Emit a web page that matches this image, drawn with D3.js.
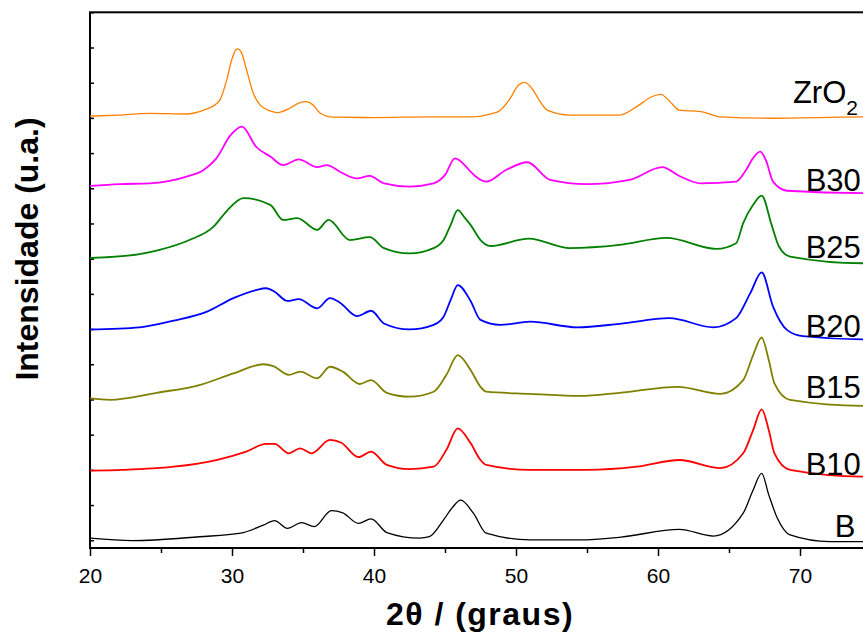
<!DOCTYPE html>
<html>
<head>
<meta charset="utf-8">
<script src="https://cdn.jsdelivr.net/npm/d3@7"></script>
<style>
  body { margin: 0; background: #fff; }
  text { font-family: "Liberation Sans", Arial, sans-serif; }
</style>
</head>
<body>
<svg id="chart" width="863" height="632"></svg>
<script>
// XRD patterns, stacked with an offset (u.a.), [2theta, intensity]
const zro2 = [[20,1205],[22,1208],[24.2,1213],[26.8,1211],[28,1222],[28.9,1240],[29.15,1251],[29.63,1308],
  [29.98,1365],[30.26,1393],[30.4,1396],[30.68,1384],[31.03,1336],[31.5,1270],[31.97,1237],[32.68,1220],
  [33.2,1215],[34.1,1228],[34.7,1242],[35.2,1246],[35.7,1237],[36.2,1214],[37.1,1202],[40,1201],[44,1203],
  [46.8,1203],[48.2,1211],[48.9,1222],[49.6,1256],[50.16,1293],[50.6,1301],[51.1,1285],[51.7,1246],
  [52.2,1222],[53.8,1208],[57.3,1208],[58.5,1232],[59.56,1260],[60.2,1267],[60.85,1246],[61.5,1222],
  [63,1218],[64.4,1203],[67.9,1199],[74.4,1203],[75,1203]];

const b30 = [[20,1007],[22.1,1012],[24.2,1014],[26.8,1033],[28,1052],[28.9,1085],[29.9,1151],[30.7,1175],
  [31.7,1118],[32.7,1090],[33.6,1066],[34.7,1082],[36,1060],[36.7,1066],[37.6,1047],[38.8,1028],[39.7,1035],
  [40.7,1014],[42.5,1005],[44.2,1014],[45,1038],[45.7,1085],[46.5,1061],[46.8,1047],[47.9,1019],[49.3,1052],
  [50.8,1074],[52.4,1024],[55,1012],[58,1024],[60.3,1060],[61.5,1035],[63,1014],[65.5,1019],[66.2,1052],
  [66.7,1086],[67.2,1104],[67.6,1080],[68.1,1019],[69.1,993],[74.4,986],[75,986]];

const b25 = [[20,802],[23.5,813],[24.9,825],[27,853],[28.7,891],[29.6,934],[30.8,972],[32.7,953],[33.6,910],
  [34.6,915],[36,882],[36.8,910],[38.3,853],[39.7,861],[40.7,830],[42.5,815],[44.2,830],[44.9,853],[45.4,896],
  [45.9,938],[46.4,916],[46.8,896],[47.5,853],[48.2,836],[50.9,857],[53.8,830],[57.3,839],[60.6,859],
  [64.1,828],[65.5,844],[66,901],[66.7,953],[67.3,979],[68,896],[68.5,836],[69.3,806],[74.4,787],[75,787]];

const b20 = [[20,599],[23.5,605],[25.9,624],[28.2,649],[30.1,688],[31.7,711],[32.4,716],[33,706],[33.9,680],
  [34.7,685],[36,659],[36.9,688],[37.6,675],[38.8,637],[39.8,652],[40.7,616],[42.5,599],[44.2,612],[44.9,635],
  [45.4,683],[45.9,725],[46.8,680],[47.5,626],[48.9,612],[51,621],[54.3,605],[57.3,615],[60.8,631],[63.9,605],
  [65.5,631],[66.5,702],[67.3,761],[68.1,664],[69.1,597],[70.2,580],[74.4,571],[75,571]];

const b15 = [[20,403],[21.4,399],[24.7,419],[27.7,441],[30.1,474],[32.2,500],[32.9,495],[34,470],[34.8,479],
  [36,460],[36.9,493],[37.8,479],[39,444],[39.8,455],[40.9,419],[42.5,408],[44.2,422],[45.1,470],[45.9,526],
  [46.8,484],[47.5,436],[47.9,422],[51,416],[54.5,410],[57.3,419],[61.4,436],[64.4,416],[66,455],[66.7,526],
  [67.3,576],[67.8,512],[68.2,446],[69.3,399],[74.4,382],[75,382]];

const b10 = [[20,198],[22.3,200],[25.9,209],[28.9,228],[31,252],[32.4,274],[33,274],[34,247],[34.8,261],
  [35.6,247],[36.9,285],[37.7,277],[38.9,236],[39.8,252],[40.9,214],[42.5,202],[44.2,209],[45.1,257],
  [45.9,318],[46.8,276],[47.5,228],[47.9,214],[51,200],[55,200],[58.5,209],[61.5,228],[64.4,205],[66,247],
  [66.7,313],[67.3,372],[67.8,313],[68.2,247],[69.3,200],[74.4,181],[75,181]];

const b0 = [[20,6],[23,-1],[27.7,10],[30.6,20],[32.2,43],[33,56],[33.9,34],[34.9,50],[35.8,39],[37,84],
  [37.8,78],[38.9,48],[39.8,61],[40.9,22],[43.2,6],[43.9,10],[44.9,58],[45.5,92],[46.1,114],[47,77],[47.9,20],
  [51,1],[54.5,1],[57.4,9],[61.5,31],[63.9,12],[66,77],[66.7,143],[67.3,190],[67.8,129],[68.4,63],[69.3,15],
  [72.1,-4],[74.4,-4],[75,-4]];

const seriesNames = ['ZrO2', 'B30', 'B25', 'B20', 'B15', 'B10', 'B'];
const seriesData = [zro2, b30, b25, b20, b15, b10, b0];
const seriesColors = ['#FF8000', '#FF00FF', '#008000', '#0000FF', '#808000', '#FF0000', '#000000'];
// label anchor (2theta, intensity) for each curve name
const labelAngle = [69.5, 70.4, 70.4, 70.4, 70.4, 70.4, 72.45];
const labelInt = [1243, 992, 802, 578, 405, 186, 9];

const xMajor = [20, 30, 40, 50, 60, 70, 80];
const xLabels = [20, 30, 40, 50, 60, 70];
const xMinor = [25, 35, 45, 55, 65, 75];
const yTicks = d3.range(0, 1600, 100);

const svg = d3.select('#chart');

const x = d3.scaleLinear().domain([20, 80]).range([90, 942]);
const y = d3.scaleLinear().domain([-22, 1500]).range([548, 12.3]);

// axes
svg.append('g')
  .attr('transform', 'translate(0,548)')
  .call(d3.axisBottom(x).tickValues(xMajor).tickSize(8).tickPadding(12)
    .tickFormat(d => xLabels.includes(d) ? d3.format('d')(d) : ''))
  .call(g => g.select('.domain').remove())
  .call(g => g.selectAll('line').attr('stroke-width', 1.5))
  .call(g => g.selectAll('text').attr('font-size', 21).attr('font-family', '"Liberation Sans", Arial, sans-serif'));

svg.append('g')
  .attr('transform', 'translate(0,548)')
  .call(d3.axisBottom(x).tickValues(xMinor).tickSize(5).tickFormat(''))
  .call(g => g.select('.domain').remove())
  .call(g => g.selectAll('line').attr('stroke-width', 1.5));

svg.append('g')
  .attr('transform', 'translate(90,0)')
  .call(d3.axisLeft(y).tickValues(yTicks).tickSize(-4).tickFormat(''))
  .call(g => g.select('.domain').remove())
  .call(g => g.selectAll('line').attr('stroke-width', 1.5));

// frame
svg.append('rect')
  .attr('x', 90).attr('y', 12.3)
  .attr('width', x(80) - 90).attr('height', 548 - 12.3)
  .attr('fill', 'none').attr('stroke', '#000').attr('stroke-width', 2);

// curves
const line = d3.line()
  .x(d => x(d[0]))
  .y(d => y(d[1]))
  .curve(d3.curveMonotoneX);

svg.selectAll('.curve')
  .data(seriesData)
  .enter()
  .append('path')
  .attr('class', 'curve')
  .attr('d', line)
  .attr('fill', 'none')
  .attr('stroke', (d, i) => seriesColors[i])
  .attr('stroke-width', (d, i) => (i === 0 || i === 6) ? 1.3 : 1.8)
  .attr('stroke-linejoin', 'round');

// curve names
const labels = svg.selectAll('.name')
  .data(seriesNames)
  .enter()
  .append('text')
  .attr('class', 'name')
  .attr('x', (d, i) => x(labelAngle[i]))
  .attr('y', (d, i) => y(labelInt[i]))
  .attr('font-size', 31)
  .attr('fill', '#000');

labels.each(function (d) {
  const t = d3.select(this);
  if (d === 'ZrO2') {
    t.append('tspan').text('ZrO');
    t.append('tspan').attr('font-size', 21).attr('dy', 12).text('2');
  } else {
    t.text(d);
  }
});

// axis titles
svg.append('text')
  .attr('x', 480).attr('y', 625)
  .attr('text-anchor', 'middle')
  .attr('font-size', 32).attr('font-weight', 'bold')
  .attr('letter-spacing', 1.5)
  .text('2θ / (graus)');

svg.append('text')
  .attr('transform', 'translate(38,249) rotate(-90)')
  .attr('text-anchor', 'middle')
  .attr('font-size', 32).attr('font-weight', 'bold')
  .text('Intensidade (u.a.)');
</script>
</body>
</html>
